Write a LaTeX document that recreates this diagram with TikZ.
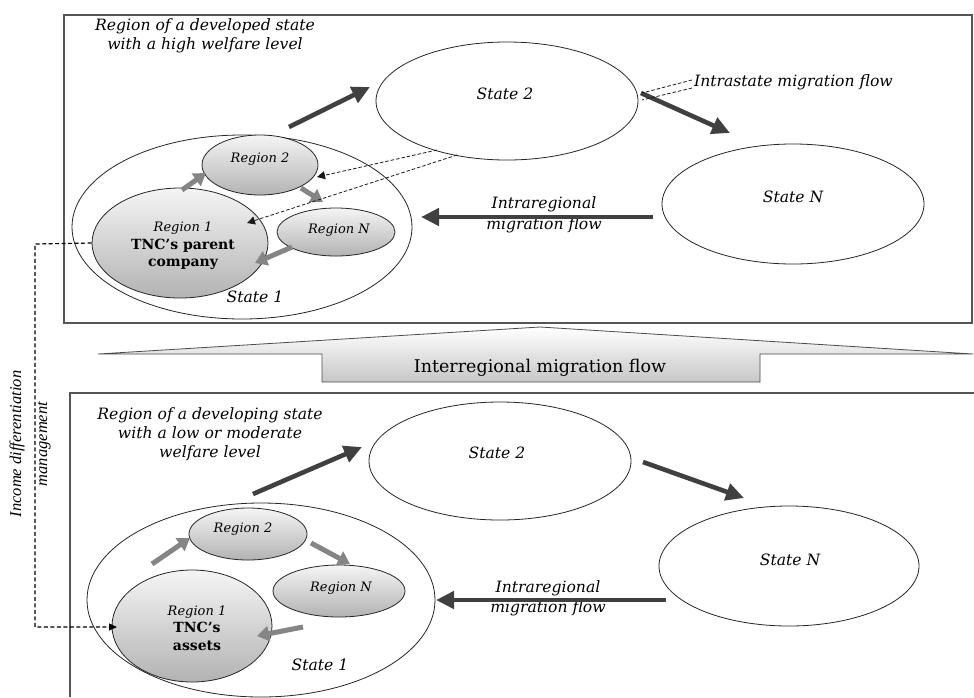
\documentclass[tikz,border=0pt]{standalone}
\usepackage{fontspec}
\setmainfont{DejaVu Serif}
\newfontfamily\timesf{Liberation Serif}
\usetikzlibrary{shapes.geometric,arrows.meta}

\definecolor{darkarr}{HTML}{404040}
\definecolor{grayarr}{HTML}{858585}
\definecolor{framec}{HTML}{555555}

\tikzset{
  stateell/.style={ellipse,draw=black!85,line width=0.8pt,inner sep=0pt},
  regell/.style={ellipse,draw=black!85,line width=0.8pt,inner sep=0pt,
    top color=white!96!black,bottom color=white!70!black},
  lbl/.style={font=\fontsize{15.6}{19}\selectfont\itshape,inner sep=0pt,align=center},
  rlbl/.style={font=\fontsize{13}{15}\selectfont\itshape,inner sep=0pt},
  bigarr/.style={draw=darkarr,line width=4.6pt,-{Triangle[length=18pt,width=17pt]}},
  grayarrow/.style={draw=grayarr,line width=5pt,-{Triangle[length=12pt,width=15pt]}},
  thindash/.style={draw=black!90,line width=0.8pt,dash pattern=on 3.5pt off 2pt},
  smallhead/.style={-{Triangle[length=8pt,width=8pt]}},
  frame/.style={draw=framec,line width=1.2pt},
}

\begin{document}
\begin{tikzpicture}[x=1pt,y=-1pt]
\useasboundingbox[fill=white] (0,0) rectangle (974,697);

% ---------------- frames ----------------
\draw[frame] (64,15) rectangle (972,323);
\draw[frame] (974,393) -- (70,393) -- (70,697);

% ---------------- interregional arrow ----------------
\draw[draw=black!70,line width=0.8pt,top color=white,bottom color=black!22]
  (98,354) -- (540,327) -- (973,354) -- (760,354) -- (760,382)
  -- (322,382) -- (322,354) -- cycle;
\node[font=\fontsize{17.5}{20}\selectfont,inner sep=0pt] (inter) at (540,368) {Interregional migration flow};

% ================= TOP PANEL =================
\node[lbl] (ttop) at (205,36) {Region of a developed state\\with a high welfare level};

\node[stateell,minimum width=340pt,minimum height=184pt] (s1a) at (242,227) {};
\node[stateell,minimum width=262pt,minimum height=118pt] (s2a) at (507,101) {};
\node[stateell,minimum width=262pt,minimum height=120pt] (sna) at (793,204) {};
\node[regell,minimum width=116pt,minimum height=60pt] (r2a) at (260,165) {};
\node[regell,minimum width=176pt,minimum height=110pt] (r1a) at (180,243) {};
\node[regell,minimum width=118pt,minimum height=48pt] (rna) at (336,232) {};

\node[rlbl] (r2at) at (260,159) {Region 2};
\node[rlbl] (rnat) at (339,230) {Region N};
\node[inner sep=0pt,align=center,font=\fontsize{14}{17.5}\selectfont\bfseries] (r1at) at (183,246)
  {{\fontsize{13}{15}\selectfont\mdseries\itshape Region 1}\\TNC’s parent\\company};
\node[lbl] (s1at) at (255,297) {State 1};
\node[lbl] (s2at) at (505,94) {State 2};
\node[lbl] (snat) at (793,197) {State N};
\node[lbl] (intraA) at (544,215) {Intraregional\\[2pt]migration flow};
\node[lbl,anchor=west] (intrastate) at (694,82) {Intrastate migration flow};

% dark arrows
\coordinate (a1s) at (289,127); \coordinate (a1e) at (370,87);
\coordinate (a2s) at (641,93);  \coordinate (a2e) at (730,133);
\coordinate (a3s) at (653,217); \coordinate (a3e) at (421,217);
\draw[bigarr] (a1s) -- (a1e);
\draw[bigarr] (a2s) -- (a2e);
\draw[bigarr] (a3s) -- (a3e);

% gray arrows
\coordinate (g1s) at (182,190); \coordinate (g1e) at (206,173);
\coordinate (g2s) at (301,188); \coordinate (g2e) at (323,202);
\coordinate (g3s) at (292,247); \coordinate (g3e) at (255,263);
\draw[grayarrow] (g1s) -- (g1e);
\draw[grayarrow] (g2s) -- (g2e);
\draw[grayarrow] (g3s) -- (g3e);

% dashed arrows from State 2
\coordinate (d1s) at (437,150); \coordinate (d1e) at (317,177);
\coordinate (d2s) at (457,155); \coordinate (d2e) at (247,223);
\draw[thindash,smallhead] (d1s) -- (d1e);
\draw[thindash,smallhead] (d2s) -- (d2e);

% leader lines for intrastate label
\coordinate (l1) at (692,80); \coordinate (l2) at (692,88);
\coordinate (l1e) at (642,93); \coordinate (l2e) at (642,100);
\draw[thindash] (l1) -- (l1e);
\draw[thindash] (l2) -- (l2e);

% ================= BOTTOM PANEL =================
\node[lbl] (tbot) at (210,434) {Region of a developing state\\with a low or moderate\\welfare level};

\node[stateell,minimum width=348pt,minimum height=194pt] (s1b) at (261,600) {};
\node[stateell,minimum width=262pt,minimum height=118pt] (s2b) at (500,461) {};
\node[stateell,minimum width=260pt,minimum height=120pt] (snb) at (789,566) {};
\node[regell,minimum width=118pt,minimum height=52pt] (r2b) at (248,534) {};
\node[regell,minimum width=132pt,minimum height=52pt] (rnb) at (339,591) {};
\node[regell,minimum width=160pt,minimum height=112pt] (r1b) at (192,626) {};

\node[rlbl] (r2bt) at (243,529) {Region 2};
\node[rlbl] (rnbt) at (341,588) {Region N};
\node[inner sep=0pt,align=center,font=\fontsize{14}{17.5}\selectfont\bfseries] (r1bt) at (197,628)
  {{\fontsize{13}{15}\selectfont\mdseries\itshape Region 1}\\TNC’s\\assets};
\node[lbl] (s1bt) at (320,665) {State 1};
\node[lbl] (s2bt) at (497,453) {State 2};
\node[lbl] (snbt) at (790,560) {State N};
\node[lbl] (intraB) at (548,598) {Intraregional\\[1pt]migration flow};

% dark arrows
\coordinate (b1s) at (253,494); \coordinate (b1e) at (362,447);
\coordinate (b2s) at (643,462); \coordinate (b2e) at (744,498);
\coordinate (b3s) at (666,600); \coordinate (b3e) at (436,600);
\draw[bigarr] (b1s) -- (b1e);
\draw[bigarr] (b2s) -- (b2e);
\draw[bigarr] (b3s) -- (b3e);

% gray arrows
\coordinate (h1s) at (152,564); \coordinate (h1e) at (190,538);
\coordinate (h2s) at (311,543); \coordinate (h2e) at (350,564);
\coordinate (h3s) at (303,627); \coordinate (h3e) at (257,636);
\draw[grayarrow] (h1s) -- (h1e);
\draw[grayarrow] (h2s) -- (h2e);
\draw[grayarrow] (h3s) -- (h3e);

% ================= income differentiation management =================
\coordinate (m1) at (35,244);
\coordinate (m2) at (35,627);
\coordinate (m3) at (117,627);
\draw[draw=black,line width=1.2pt,dash pattern=on 4pt off 2.5pt,-{Triangle[length=8pt,width=7pt]}]
  (r1a.west) -- (m1) -- (m2) -- (m3);
\node[rotate=90,inner sep=0pt,align=center,font=\timesf\fontsize{16.5}{26}\selectfont\itshape] (incm) at (30,444)
  {Income differentiation\\management};
\end{tikzpicture}
\end{document}
